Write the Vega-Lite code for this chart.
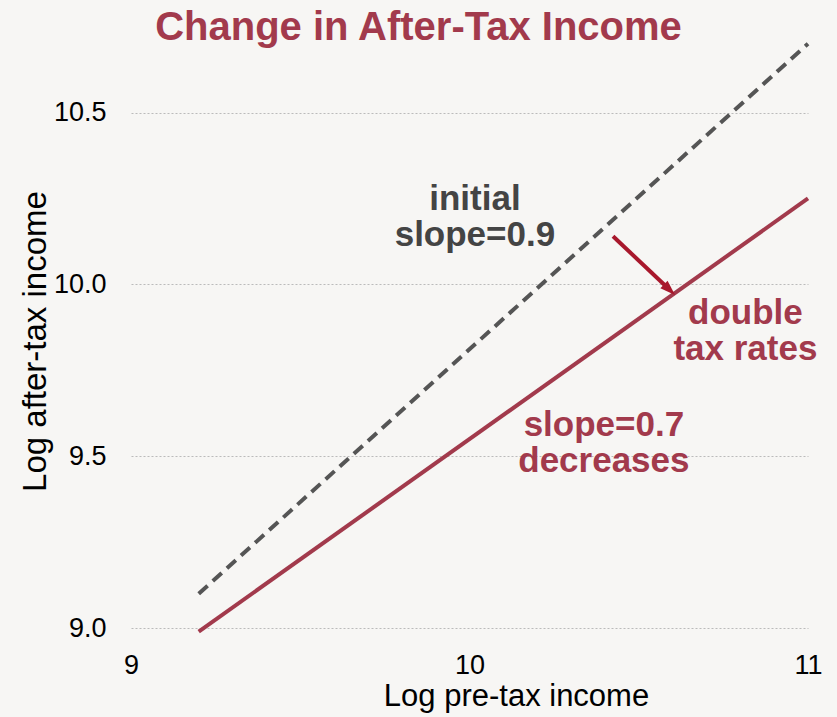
{
  "$schema": "https://vega.github.io/schema/vega-lite/v6.json",
  "autosize": "none",
  "width": 677,
  "height": 605,
  "padding": {"left": 131, "top": 30, "right": 29, "bottom": 82},
  "background": "#f7f6f4",
  "config": {
    "font": "Liberation Sans",
    "view": {"stroke": null},
    "axis": {"labelFont": "Liberation Sans", "titleFont": "Liberation Sans", "labelColor": "#000", "titleColor": "#000", "titleFontWeight": "normal"}
  },
  "title": {
    "text": "Change in After-Tax Income",
    "font": "Liberation Sans",
    "fontSize": 40,
    "fontWeight": "bold",
    "color": "#a23a4c",
    "anchor": "middle",
    "dx": -51,
    "offset": -50,
    "baseline": "alphabetic"
  },
  "datasets": {
    "lines": [
      {"series": "initial", "x": 9.2, "y": 9.1},
      {"series": "initial", "x": 11, "y": 10.7},
      {"series": "doubled", "x": 9.2, "y": 8.99},
      {"series": "doubled", "x": 11, "y": 10.25}
    ],
    "arrow": [
      {"x": 10.424, "y": 10.14, "x2": 10.585, "y2": 9.99}
    ],
    "head": [
      {"x": 10.59, "y": 9.985}
    ],
    "notes": [
      {"label": ["initial", "slope=0.9"], "x": 10.016, "y": 10.215, "kind": "gray"},
      {"label": ["double", "tax rates"], "x": 10.815, "y": 9.884, "kind": "red"},
      {"label": ["slope=0.7", "decreases"], "x": 10.397, "y": 9.558, "kind": "red"}
    ]
  },
  "encoding": {
    "x": {
      "field": "x", "type": "quantitative",
      "scale": {"domain": [9, 11], "nice": false, "zero": false},
      "axis": {
        "values": [9, 10, 11], "labelExpr": "format(datum.value, '.0f')",
        "grid": false, "domain": false, "ticks": false,
        "labelFontSize": 27, "labelPadding": 17, "labelFlush": false, "labelOverlap": false,
        "title": "Log pre-tax income", "titleFontSize": 31, "titleX": 385, "titleY": 70,
        "titleBaseline": "alphabetic"
      }
    },
    "y": {
      "field": "y", "type": "quantitative",
      "scale": {"domain": [8.98, 10.74], "nice": false, "zero": false},
      "axis": {
        "values": [9, 9.5, 10, 10.5], "format": ".1f", "grid": true, "gridColor": "#bbbbbb",
        "gridDash": [2, 2], "gridWidth": 1, "domain": false, "ticks": false,
        "labelFontSize": 27, "labelPadding": 25, "labelFlush": false, "labelOverlap": false,
        "title": "Log after-tax income", "titleFontSize": 33, "titleX": -96, "titleY": 311,
        "titleAngle": -90, "titleBaseline": "middle"
      }
    }
  },
  "layer": [
    {
      "data": {"name": "lines"},
      "transform": [{"filter": "datum.series === 'initial'"}],
      "mark": {"type": "line", "color": "#555555", "strokeWidth": 4, "strokeDash": [12, 7]}
    },
    {
      "data": {"name": "lines"},
      "transform": [{"filter": "datum.series === 'doubled'"}],
      "mark": {"type": "line", "color": "#a23a4c", "strokeWidth": 4}
    },
    {
      "data": {"name": "arrow"},
      "mark": {"type": "rule", "color": "#a8182c", "strokeWidth": 4},
      "encoding": {
        "x2": {"field": "x2"},
        "y2": {"field": "y2"}
      }
    },
    {
      "data": {"name": "head"},
      "mark": {
        "type": "point", "filled": true, "color": "#a8182c", "opacity": 1,
        "shape": "M0,-1L0.65,0.9L-0.65,0.9Z", "size": 260, "angle": 133.5
      }
    },
    {
      "data": {"name": "notes"},
      "mark": {"type": "text", "font": "Liberation Sans", "fontSize": 35, "fontWeight": "bold", "align": "center", "baseline": "alphabetic", "lineHeight": 36},
      "encoding": {
        "text": {"field": "label"},
        "color": {
          "field": "kind", "type": "nominal",
          "scale": {"domain": ["gray", "red"], "range": ["#444444", "#a23a4c"]},
          "legend": null
        }
      }
    }
  ]
}
